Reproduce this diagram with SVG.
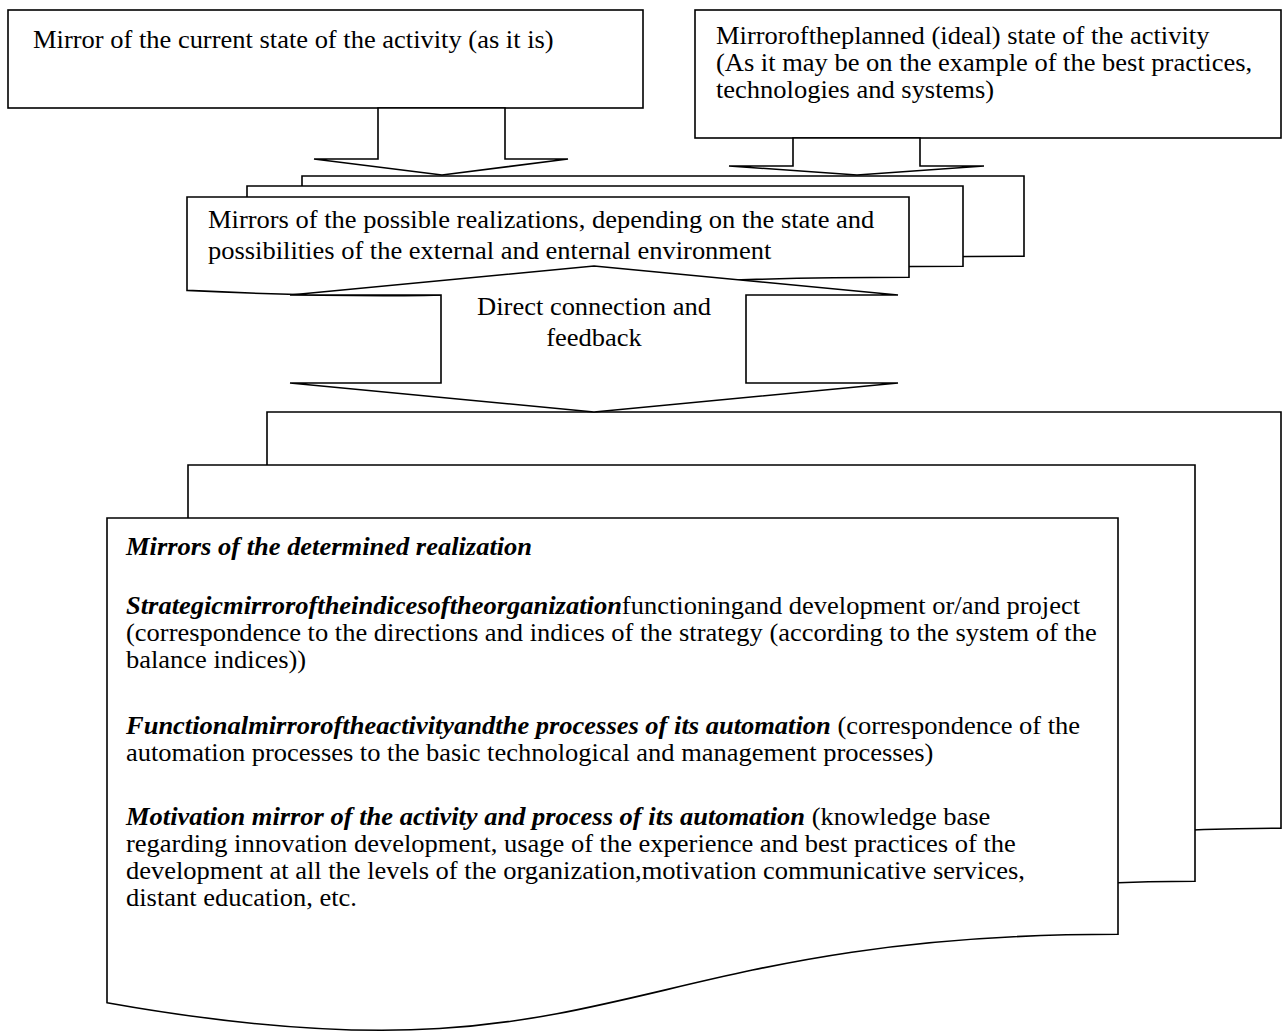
<svg xmlns="http://www.w3.org/2000/svg" width="1283" height="1034" viewBox="0 0 1283 1034">
<style>
.shape{fill:#fff;stroke:#000;stroke-width:1.6;stroke-linejoin:miter}
text{font-family:"Liberation Serif","Times New Roman",serif;font-size:24.2px;fill:#000}
.bi{font-weight:bold;font-style:italic}
.mid{text-anchor:middle}
</style>
<rect width="1283" height="1034" fill="#fff"/>

<g id="node-current">
<rect class="shape" x="8" y="10" width="635" height="98"/>
<g transform="translate(33,0) scale(1.095,1)">
<text x="0" y="48">Mirror of the current state of the activity (as it is)</text>
</g>
</g>

<g id="node-planned">
<rect class="shape" x="695" y="10" width="586" height="128"/>
<g transform="translate(716,0) scale(1.095,1)">
<text x="0" y="44">Mirroroftheplanned (ideal) state of the activity</text>
<text x="0" y="71">(As it may be on the example of the best practices,</text>
<text x="0" y="98">technologies and systems)</text>
</g>
</g>

<g id="node-possible">
<path class="shape" d="M302,176 H1024 V256.2 C663,256.2 663,286.8 302,269.4 Z"/>
<path class="shape" d="M247,186 H963 V266.2 C605,266.2 605,296.8 247,279.4 Z"/>
<path class="shape" d="M187,197 H909 V277.2 C548,277.2 548,307.8 187,290.4 Z"/>
<g transform="translate(208,0) scale(1.095,1)">
<text x="0" y="228">Mirrors of the possible realizations, depending on the state and</text>
<text x="0" y="259">possibilities of the external and enternal environment</text>
</g>
</g>

<g id="node-determined">
<path class="shape" d="M267,412 H1281 V828.2 C774,828.2 774,986.8 267,896.7 Z"/>
<path class="shape" d="M188,465 H1195 V881.2 C691.5,881.2 691.5,1039.8 188,949.7 Z"/>
<path class="shape" d="M107,518 H1118 V934.2 C612.5,934.2 612.5,1092.8 107,1002.7 Z"/>
<g transform="translate(126,0) scale(1.095,1)">
<text x="0" y="555" class="bi">Mirrors of the determined realization</text>
<text x="0" y="614"><tspan class="bi">Strategicmirroroftheindicesoftheorganization</tspan><tspan>functioningand development or/and project</tspan></text>
<text x="0" y="641">(correspondence to the directions and indices of the strategy (according to the system of the</text>
<text x="0" y="668">balance indices))</text>
<text x="0" y="734"><tspan class="bi">Functionalmirroroftheactivityandthe processes of its automation</tspan><tspan> (correspondence of the</tspan></text>
<text x="0" y="761">automation processes to the basic technological and management processes)</text>
<text x="0" y="825"><tspan class="bi">Motivation mirror of the activity and process of its automation</tspan><tspan> (knowledge base</tspan></text>
<text x="0" y="852">regarding innovation development, usage of the experience and best practices of the</text>
<text x="0" y="879">development at all the levels of the organization,motivation communicative services,</text>
<text x="0" y="906">distant education, etc.</text>
</g>
</g>

<g id="connectors">
<path class="shape" d="M378,108 V159 H314 L442,175 L568,159 H505 V108 Z"/>
<path class="shape" d="M793,138 V166 H729 L857,175 L984,166 H920 V138 Z"/>
<path class="shape" d="M594,266 L898,295 H746 V383 H898 L594,412 L290,383 H441 V295 H290 Z"/>
<g transform="translate(594,0) scale(1.095,1)">
<text x="0" y="315" class="mid">Direct connection and</text>
<text x="0" y="346" class="mid">feedback</text>
</g>
</g>
</svg>
